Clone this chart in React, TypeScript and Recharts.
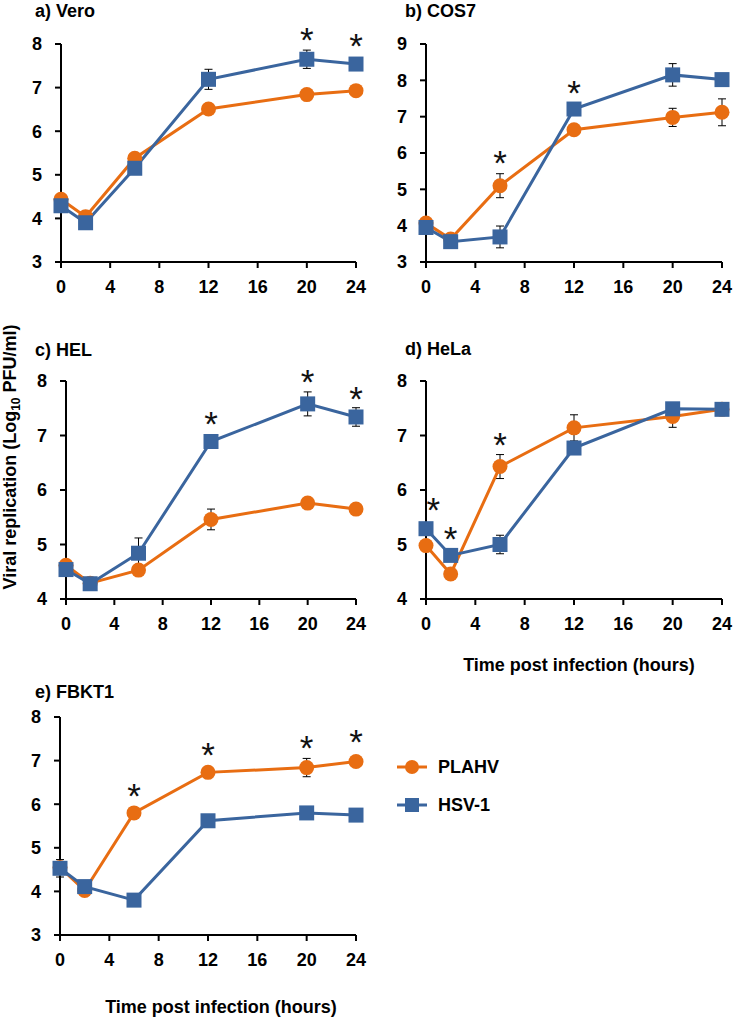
import React from 'react';
import { LineChart, Line, XAxis, YAxis, ErrorBar, ReferenceDot, Legend } from 'recharts';

const hours = [0, 2, 6, 12, 20, 24];
const xTicks = [0, 4, 8, 12, 16, 20, 24];

const veroPlahv = [4.44, 4.04, 5.38, 6.51, 6.84, 6.93];
const veroPlahvErr = [null, null, null, null, null, null];
const veroHsv = [4.29, 3.9, 5.15, 7.19, 7.65, 7.54];
const veroHsvErr = [null, null, null, 0.23, 0.21, null];
const veroSig = [{ x: 20, y: 8.29 }, { x: 24, y: 8.15 }];

const cosPlahv = [4.07, 3.63, 5.1, 6.64, 6.98, 7.12];
const cosPlahvErr = [null, null, 0.33, null, 0.25, 0.37];
const cosHsv = [3.95, 3.56, 3.69, 7.21, 8.15, 8.02];
const cosHsvErr = [null, null, 0.3, null, 0.31, null];
const cosSig = [{ x: 6, y: 5.95 }, { x: 12, y: 7.88 }];

const helPlahv = [4.62, 4.29, 4.53, 5.46, 5.76, 5.65];
const helPlahvErr = [null, null, 0.1, 0.19, null, null];
const helHsv = [4.54, 4.28, 4.84, 6.89, 7.58, 7.34];
const helHsvErr = [null, null, 0.28, null, 0.22, 0.17];
const helSig = [{ x: 12, y: 7.37 }, { x: 20, y: 8.13 }, { x: 24, y: 7.83 }];

const helaPlahv = [4.98, 4.46, 6.43, 7.14, 7.35, 7.48];
const helaPlahvErr = [null, null, 0.22, 0.24, 0.2, null];
const helaHsv = [5.29, 4.8, 5.0, 6.77, 7.49, 7.48];
const helaHsvErr = [null, null, 0.17, null, null, 0.1];
const helaSig = [{ x: 0.6, y: 5.78 }, { x: 2, y: 5.26 }, { x: 6, y: 6.97 }];

const fbPlahv = [4.55, 4.02, 5.8, 6.73, 6.84, 6.98];
const fbPlahvErr = [null, null, null, null, 0.21, null];
const fbHsv = [4.53, 4.11, 3.8, 5.62, 5.8, 5.75];
const fbHsvErr = [0.2, null, null, null, null, null];
const fbSig = [{ x: 6, y: 6.38 }, { x: 12, y: 7.31 }, { x: 20, y: 7.47 }, { x: 24, y: 7.62 }];

const ticks3to8 = [3, 4, 5, 6, 7, 8];
const ticks3to9 = [3, 4, 5, 6, 7, 8, 9];
const ticks4to8 = [4, 5, 6, 7, 8];

const legendOrder = ['plahv', 'hsv'];

const FONT = '"Liberation Sans", Arial, Helvetica, sans-serif';
const ORANGE = '#E86D12';
const BLUE = '#3A659E';
const FS = 18;

const buildRows = (p: any[], pe: any[], h: any[], he: any[]) =>
  hours.map((hr, i) => ({ h: hr, plahv: p[i], plahvErr: pe[i], hsv: h[i], hsvErr: he[i] }));

const squareDot = (props: any) => {
  const { cx, cy, index } = props;
  if (cx == null || cy == null) return <g key={`sq-${index}`} />;
  return <rect key={`sq-${index}`} x={cx - 7.5} y={cy - 7.5} width={15} height={15} fill={BLUE} />;
};

const starShape = (props: any) => {
  const { cx, cy } = props;
  const fs = 35;
  return (
    <text x={cx} y={cy + 0.58 * fs} textAnchor="middle" fontSize={fs} fontFamily={FONT} fill="#111">
      *
    </text>
  );
};

type PanelProps = {
  rows: any[];
  yDomain: [number, number];
  yTicks: number[];
  sig: { x: number; y: number }[];
  box: { left: number; top: number; width: number; height: number };
  margin: { top: number; left: number; right: number; bottom: number };
  legend?: boolean;
};

const legendContent = (props: any) => {
  const payload = [...(props.payload || [])].sort(
    (a: any, b: any) => legendOrder.indexOf(a.dataKey) - legendOrder.indexOf(b.dataKey)
  );
  return (
    <div style={{ position: 'relative', width: 200, height: 60 }}>
      {payload.map((item: any, i: number) => {
        const isHsv = item.dataKey === 'hsv';
        const color = isHsv ? BLUE : ORANGE;
        return (
          <svg
            key={item.value}
            width={200}
            height={20}
            style={{ position: 'absolute', left: 0, top: i * 38, display: 'block' }}
          >
            <line x1={0} x2={30} y1={10} y2={10} stroke={color} strokeWidth={3} />
            {isHsv ? (
              <rect x={8} y={3} width={14} height={14} fill={color} />
            ) : (
              <circle cx={15} cy={10} r={7} fill={color} />
            )}
            <text x={41} y={10 + 0.358 * FS} fontSize={FS} fontWeight="bold" fontFamily={FONT} fill="#000">
              {item.value}
            </text>
          </svg>
        );
      })}
    </div>
  );
};

const tickStyle = { fill: '#000', fontSize: FS, fontWeight: 'bold', fontFamily: FONT };
const axisStroke = { stroke: '#000', strokeWidth: 2 };

function Panel({ rows, yDomain, yTicks, sig, box, margin, legend }: PanelProps) {
  return (
    <div style={{ position: 'absolute', left: box.left, top: box.top, width: box.width, height: box.height }}>
      <LineChart width={box.width} height={box.height} data={rows} margin={margin}>
        <XAxis
          type="number"
          dataKey="h"
          domain={[0, 24]}
          ticks={xTicks}
          interval={0}
          height={30}
          tick={tickStyle}
          tickSize={6}
          tickMargin={12}
          axisLine={axisStroke}
          tickLine={axisStroke}
        />
        <YAxis
          type="number"
          domain={yDomain}
          ticks={yTicks}
          interval={0}
          width={40}
          tick={tickStyle}
          tickSize={6}
          tickMargin={13}
          axisLine={axisStroke}
          tickLine={axisStroke}
        />
        <Line
          dataKey="plahv"
          name="PLAHV"
          stroke={ORANGE}
          strokeWidth={3}
          dot={{ r: 7.5, fill: ORANGE, stroke: ORANGE, strokeWidth: 0 }}
          activeDot={false}
          isAnimationActive={false}
        >
          <ErrorBar dataKey="plahvErr" direction="y" width={4} stroke="#000" strokeWidth={1} />
        </Line>
        <Line
          dataKey="hsv"
          name="HSV-1"
          stroke={BLUE}
          strokeWidth={3}
          dot={squareDot}
          activeDot={false}
          isAnimationActive={false}
        >
          <ErrorBar dataKey="hsvErr" direction="y" width={4} stroke="#000" strokeWidth={1} />
        </Line>
        {sig.map((s, i) => (
          <ReferenceDot key={i} x={s.x} y={s.y} r={0} ifOverflow="visible" shape={starShape} />
        ))}
        {legend && (
          <Legend
            layout="vertical"
            align="center"
            verticalAlign="middle"
            content={legendContent}
            wrapperStyle={{ left: 397, top: 97, width: 200, height: 60 }}
          />
        )}
      </LineChart>
    </div>
  );
}

const titleStyle: any = { fontSize: FS, fontWeight: 'bold', fontFamily: FONT, fill: '#000' };
const capOff = 0.358 * FS;

export default function App() {
  return (
    <div style={{ position: 'absolute', left: 0, top: 0, width: 733, height: 1018, background: '#fff' }}>
      <svg width={733} height={1018} style={{ position: 'absolute', left: 0, top: 0 }}>
        <text x={35} y={11 + capOff} {...titleStyle}>a) Vero</text>
        <text x={405} y={11 + capOff} {...titleStyle}>b) COS7</text>
        <text x={35} y={350 + capOff} {...titleStyle}>c) HEL</text>
        <text x={405} y={349 + capOff} {...titleStyle}>d) HeLa</text>
        <text x={35} y={692 + capOff} {...titleStyle}>e) FBKT1</text>
        <text transform="translate(16,457) rotate(-90)" textAnchor="middle" {...titleStyle}>
          Viral replication (Log
          <tspan fontSize={12} dy={4}>10</tspan>
          <tspan dy={-4}> PFU/ml)</tspan>
        </text>
        <text x={579} y={665 + capOff} textAnchor="middle" {...titleStyle}>Time post infection (hours)</text>
        <text x={221} y={1007 + capOff} textAnchor="middle" {...titleStyle}>Time post infection (hours)</text>
      </svg>
      <Panel
        rows={buildRows(veroPlahv, veroPlahvErr, veroHsv, veroHsvErr)}
        yDomain={[3, 8]}
        yTicks={ticks3to8}
        sig={veroSig}
        box={{ left: 0, top: 0, width: 370, height: 300 }}
        margin={{ top: 44, left: 21, right: 14, bottom: 8 }}
      />
      <Panel
        rows={buildRows(cosPlahv, cosPlahvErr, cosHsv, cosHsvErr)}
        yDomain={[3, 9]}
        yTicks={ticks3to9}
        sig={cosSig}
        box={{ left: 370, top: 0, width: 363, height: 300 }}
        margin={{ top: 44, left: 16, right: 11, bottom: 8 }}
      />
      <Panel
        rows={buildRows(helPlahv, helPlahvErr, helHsv, helHsvErr)}
        yDomain={[4, 8]}
        yTicks={ticks4to8}
        sig={helSig}
        box={{ left: 0, top: 320, width: 370, height: 320 }}
        margin={{ top: 61, left: 26, right: 14, bottom: 11 }}
      />
      <Panel
        rows={buildRows(helaPlahv, helaPlahvErr, helaHsv, helaHsvErr)}
        yDomain={[4, 8]}
        yTicks={ticks4to8}
        sig={helaSig}
        box={{ left: 370, top: 320, width: 363, height: 320 }}
        margin={{ top: 61, left: 16, right: 11, bottom: 11 }}
      />
      <Panel
        rows={buildRows(fbPlahv, fbPlahvErr, fbHsv, fbHsvErr)}
        yDomain={[3, 8]}
        yTicks={ticks3to8}
        sig={fbSig}
        box={{ left: 0, top: 660, width: 733, height: 320 }}
        margin={{ top: 57, left: 20, right: 377, bottom: 15 }}
        legend
      />
    </div>
  );
}
